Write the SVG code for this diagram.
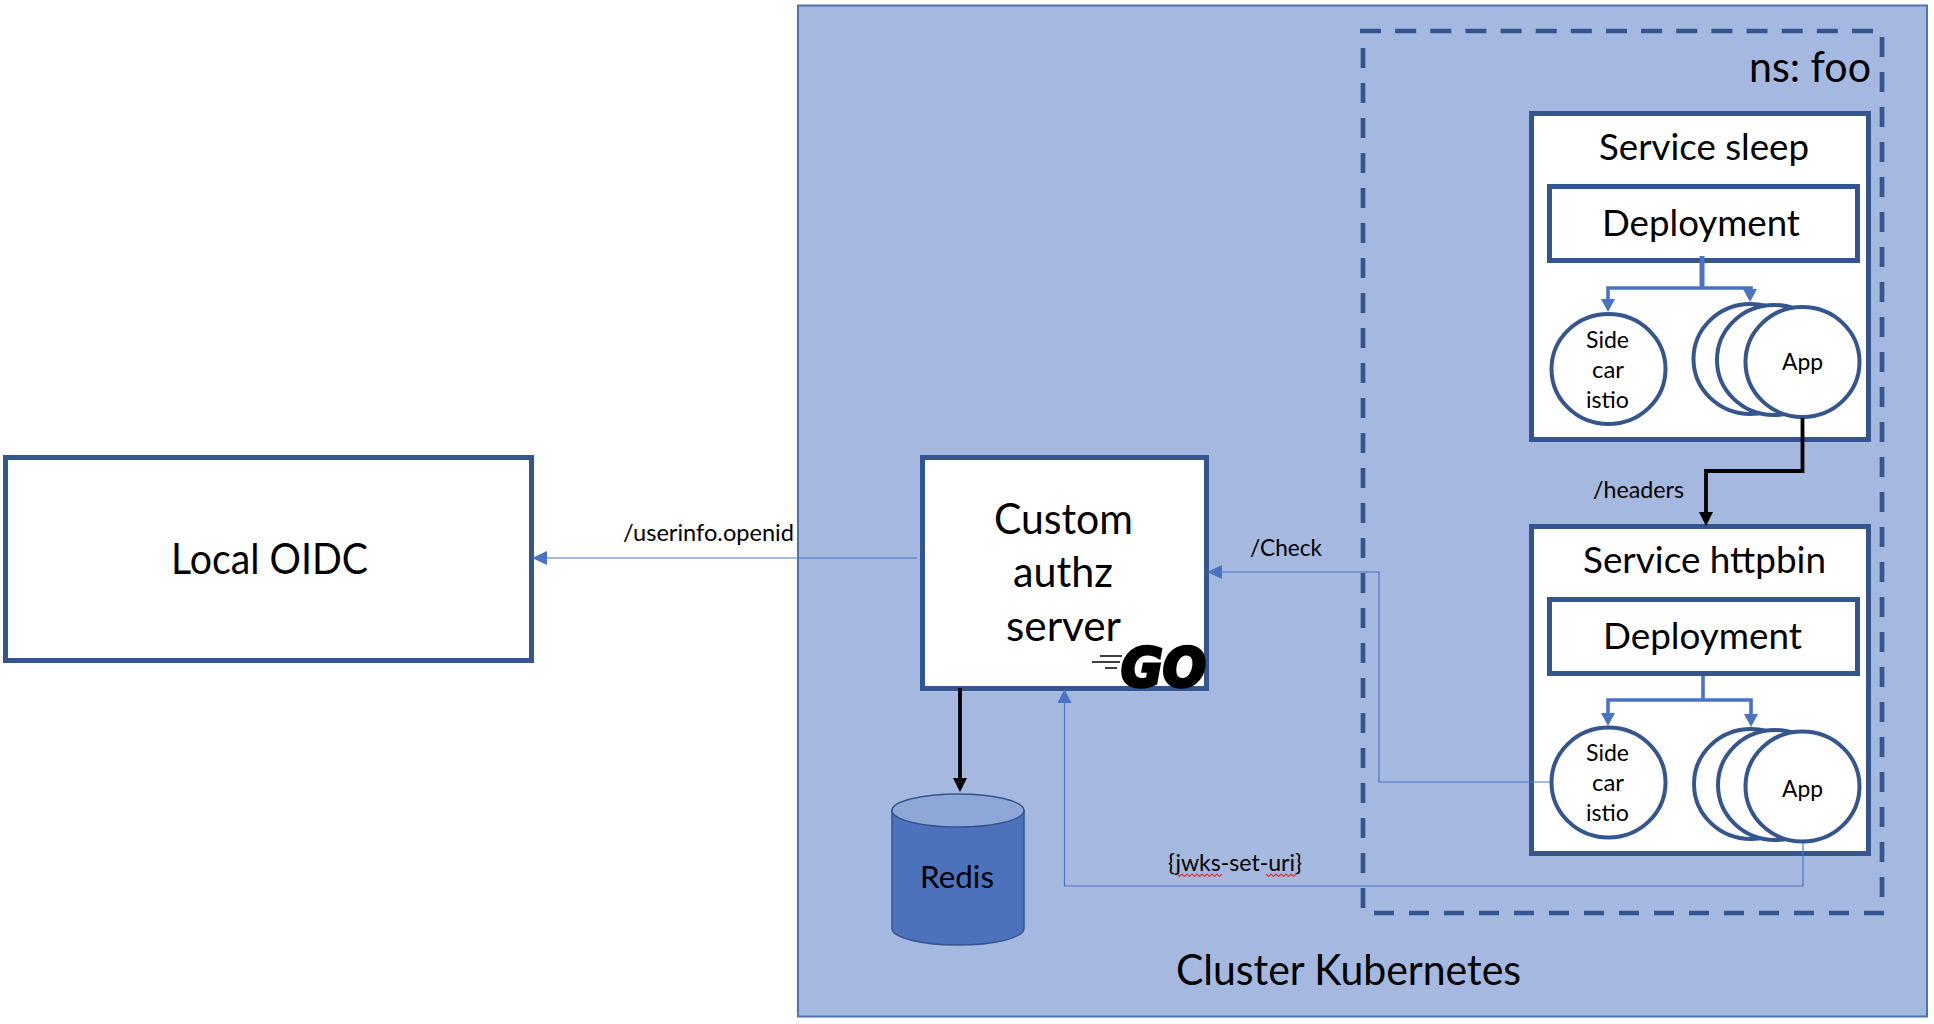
<svg xmlns="http://www.w3.org/2000/svg" width="1934" height="1024" viewBox="0 0 1934 1024">
<style>
text{font-family:Lato,"Liberation Sans",sans-serif;fill:#000;text-anchor:start}
.box{fill:#fff;stroke:#35558f;stroke-width:5}
.circ{fill:#fff;stroke:#35558f;stroke-width:4}
.dash{fill:none;stroke:#35558f;stroke-width:4.7;stroke-dasharray:20 15}
.thin{fill:none;stroke:#4a74c2;stroke-width:1.2}
.mid{fill:none;stroke:#4a74c2;stroke-width:3.6}
.blk{fill:none;stroke:#000;stroke-width:3.8}
.ah{fill:#4a74c2}
.ak{fill:#000}
.xl{font-size:42px}
.l{font-size:36px}
.m{font-size:31px}
.s{font-size:24px}
.lb{font-size:23px}
.sq{fill:none;stroke:#e0352b;stroke-width:1.1}
</style>
<rect width="1934" height="1024" fill="#fff"/>
<g id="cluster">
<rect x="798" y="5.500" width="1129" height="1011" fill="#a5b8df" stroke="#4f72b5" stroke-width="2"/>
<text class="xl" x="1176" y="985" textLength="345" lengthAdjust="spacingAndGlyphs">Cluster Kubernetes</text>
</g>
<g id="namespace">
<path class="dash" style="stroke-dasharray:21 14.140" d="M1360 31H1873"/>
<path class="dash" d="M1882 37V897"/>
<path class="dash" d="M1884 913H1372"/>
<path class="dash" d="M1363 908V48"/>
<text class="xl" x="1749" y="82" textLength="122" lengthAdjust="spacingAndGlyphs">ns: foo</text>
</g>
<g id="local-oidc">
<rect class="box" x="5.500" y="457.500" width="526" height="203"/>
<text class="xl" x="171" y="574" textLength="197" lengthAdjust="spacingAndGlyphs">Local OIDC</text>
</g>
<g id="authz-server">
<rect class="box" x="922.500" y="457.500" width="284" height="231"/>
<text class="xl" x="994" y="534" textLength="139" lengthAdjust="spacingAndGlyphs">Custom</text>
<text class="xl" x="1013" y="587" textLength="100" lengthAdjust="spacingAndGlyphs">authz</text>
<text class="xl" x="1006" y="641" textLength="115" lengthAdjust="spacingAndGlyphs">server</text>
<path d="M1100 656H1122M1092 662H1120M1105 668H1117" fill="none" stroke="#000" stroke-width="1.600"/>
<text x="1121" y="686" style="font-family:'DejaVu Sans',sans-serif;font-size:54px;font-weight:700;font-style:italic;stroke:#000;stroke-width:3.500" textLength="85" lengthAdjust="spacingAndGlyphs">GO</text>
</g>
<g id="redis">
<path d="M892 810.500V928.500A66 16.500 0 0 0 1024 928.500V810.500Z" fill="#4c72bc" stroke="#35558f" stroke-width="1.500"/>
<ellipse cx="958" cy="810.500" rx="66" ry="16.500" fill="#8fa7d7" stroke="#35558f" stroke-width="1.500"/>
<text class="m" x="920" y="888" textLength="74" lengthAdjust="spacingAndGlyphs">Redis</text>
</g>
<g id="service-sleep">
<rect class="box" x="1531.500" y="113.500" width="337" height="326"/>
<text class="l" x="1599" y="160" textLength="210" lengthAdjust="spacingAndGlyphs">Service sleep</text>
</g>
<g id="deployment-sleep">
<rect class="box" x="1549.500" y="186.500" width="308" height="74"/>
<text class="l" x="1602" y="236" textLength="198" lengthAdjust="spacingAndGlyphs">Deployment</text>
</g>
<g id="sidecar-sleep">
<ellipse class="circ" cx="1608.500" cy="369" rx="57" ry="55"/>
<text class="s" x="1586" y="348" textLength="43" lengthAdjust="spacingAndGlyphs">Side</text>
<text class="s" x="1592" y="378" textLength="32" lengthAdjust="spacingAndGlyphs">car</text>
<text class="s" x="1586" y="408" textLength="43" lengthAdjust="spacingAndGlyphs">istio</text>
</g>
<g id="app-sleep">
<ellipse class="circ" cx="1750.500" cy="359" rx="57" ry="55"/>
<ellipse class="circ" cx="1774" cy="360" rx="57" ry="55"/>
<ellipse class="circ" cx="1802.500" cy="362" rx="57" ry="55"/>
<text class="s" x="1782" y="370" textLength="41" lengthAdjust="spacingAndGlyphs">App</text>
</g>
<g id="service-httpbin">
<rect class="box" x="1531.500" y="526.500" width="337" height="327"/>
<text class="l" x="1583" y="573" textLength="243" lengthAdjust="spacingAndGlyphs">Service httpbin</text>
</g>
<g id="deployment-httpbin">
<rect class="box" x="1549.500" y="599.500" width="308" height="74"/>
<text class="l" x="1603" y="649" textLength="199" lengthAdjust="spacingAndGlyphs">Deployment</text>
</g>
<g id="sidecar-httpbin">
<ellipse class="circ" cx="1608.500" cy="782.500" rx="57" ry="55"/>
<text class="s" x="1586" y="761" textLength="43" lengthAdjust="spacingAndGlyphs">Side</text>
<text class="s" x="1592" y="791" textLength="32" lengthAdjust="spacingAndGlyphs">car</text>
<text class="s" x="1586" y="821" textLength="43" lengthAdjust="spacingAndGlyphs">istio</text>
</g>
<g id="app-httpbin">
<ellipse class="circ" cx="1751" cy="784" rx="57" ry="55"/>
<ellipse class="circ" cx="1775" cy="785" rx="57" ry="55"/>
<ellipse class="circ" cx="1802.500" cy="786.500" rx="57" ry="55"/>
<text class="s" x="1782" y="797" textLength="41" lengthAdjust="spacingAndGlyphs">App</text>
</g>
<g id="connectors">
<path class="thin" d="M917 558H545"/>
<path class="ah" d="M532 558L547 551V565Z"/>
<path class="thin" d="M1550 782H1379V572H1220"/>
<path class="ah" d="M1207 572L1222 565V579Z"/>
<path class="thin" d="M1803 843V886H1064.500V702"/>
<path class="ah" d="M1064.500 689L1071.500 703H1057.500Z"/>
<path class="blk" d="M960 688V780"/>
<path class="ak" d="M960 792L953 778H967Z"/>
<path class="blk" d="M1802.500 418V471H1706V514"/>
<path class="ak" d="M1706 526L1699 512H1713Z"/>
<path class="mid" style="stroke-width:5" d="M1702 256V288"/>
<path class="mid" d="M1608 301V288H1751V291"/>
<path class="ah" d="M1608 312L1601 299H1615Z"/>
<path class="ah" d="M1750 302L1743 289H1757Z"/>
<path class="mid" d="M1703 676V700"/>
<path class="mid" d="M1608 715V700H1751V716"/>
<path class="ah" d="M1608 726L1601 713H1615Z"/>
<path class="ah" d="M1751 727L1744 714H1758Z"/>
</g>
<g id="labels">
<text class="lb" x="623" y="541" textLength="171" lengthAdjust="spacingAndGlyphs">/userinfo.openid</text>
<text class="lb" x="1250" y="556" textLength="72" lengthAdjust="spacingAndGlyphs">/Check</text>
<text class="lb" x="1593" y="498" textLength="91" lengthAdjust="spacingAndGlyphs">/headers</text>
<text class="lb" x="1168" y="871" textLength="134" lengthAdjust="spacingAndGlyphs">{jwks-set-uri}</text>
<path class="sq" d="M1177 874l2.500 2.500 2.500-2.500 2.500 2.500 2.500-2.500 2.500 2.500 2.500-2.500 2.500 2.500 2.500-2.500 2.500 2.500 2.500-2.500 2.500 2.500 2.500-2.500 2.500 2.500 2.500-2.500 2.500 2.500 2.500-2.500 2.500 2.500 2.500-2.500M1266 874l2.500 2.500 2.500-2.500 2.500 2.500 2.500-2.500 2.500 2.500 2.500-2.500 2.500 2.500 2.500-2.500 2.500 2.500 2.500-2.500 2.500 2.500 2.500-2.500"/>
</g>
</svg>
